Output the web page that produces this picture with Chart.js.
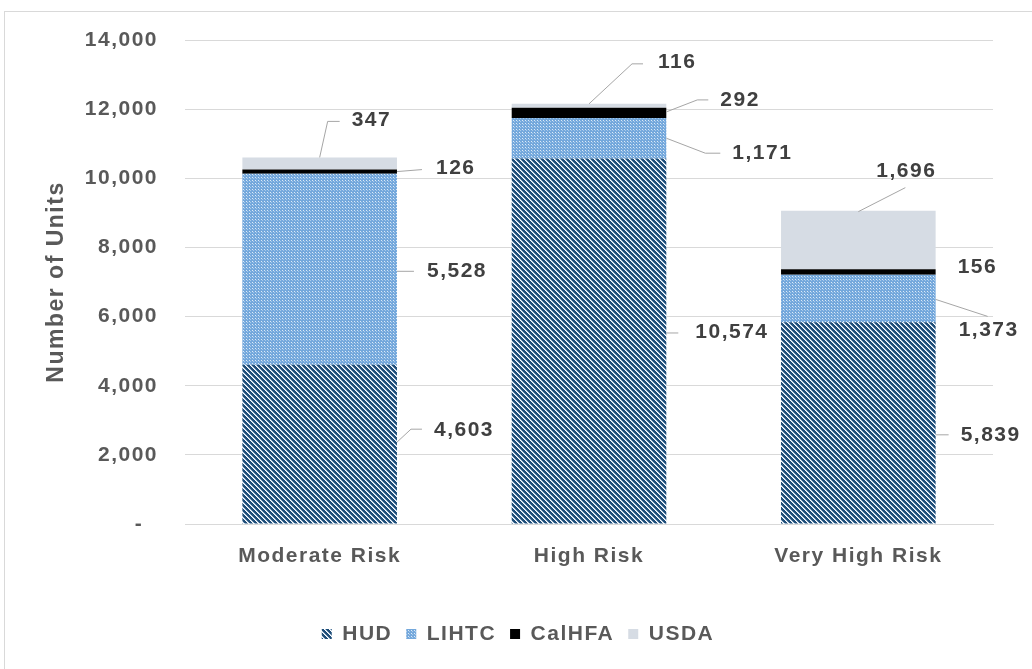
<!DOCTYPE html>
<html>
<head>
<meta charset="utf-8">
<script src="https://cdn.jsdelivr.net/npm/chart.js@4.4.1/dist/chart.umd.min.js"></script>
<style>
  html, body { margin: 0; padding: 0; background: #ffffff; }
  #wrap { width: 1032px; height: 669px; }
</style>
</head>
<body>
<div id="wrap"><canvas id="c" width="1032" height="669"></canvas></div>
<script>
// ---- data ----
const categories = ['Moderate Risk', 'High Risk', 'Very High Risk'];
const seriesNames = ['HUD', 'LIHTC', 'CalHFA', 'USDA'];
const hudUnits = [4603, 10574, 5839];
const lihtcUnits = [5528, 1171, 1373];
const calhfaUnits = [126, 292, 156];
const usdaUnits = [347, 116, 1696];
const yMin = 0, yMax = 14000, yStep = 2000;

// ---- label leader layout (offsets relative to each bar segment) ----
// a: 'r' = right edge / middle of segment, 't' = centre / top of segment
const labelLayout = [
  [ {a:'r', pts:[[0,-2],[14,-15],[25,-15]], t:[37,-14]},
    {a:'r', pts:[[0,-8],[12,-8]], t:[29,-9]},
    {a:'r', pts:[[0,12],[13,12]], t:[25,12]} ],
  [ {a:'r', pts:[[0,2],[17,2]], t:[30,2]},
    {a:'r', pts:[[0,0],[39,15],[54,15]], t:[66,15]},
    {a:'r', pts:[[0,1],[52,18]], t:[23,32]} ],
  [ {a:'r', pts:[[0,0],[25,-2]], t:[39,-3]},
    {a:'r', pts:[[0,-1],[31,-13],[42,-13]], t:[54,-13]},
    {a:'r', pts:[], t:[22,-5]} ],
  [ {a:'t', pts:[[0,0],[8,-36],[20,-36]], t:[32,-37]},
    {a:'t', pts:[[0,0],[43,-40],[54,-40]], t:[69,-42]},
    {a:'t', pts:[[0,1],[47,-23]], t:[18,-39]} ]
];

function hatchPattern() {
  const c = document.createElement('canvas');
  c.width = 5; c.height = 5;
  const g = c.getContext('2d');
  g.fillStyle = '#1F4E79'; g.fillRect(0, 0, 5, 5);
  for (let y = 0; y < 5; y++) {
    g.fillStyle = '#ffffff'; g.fillRect(y % 5, y, 1, 1);
    g.fillStyle = '#A9C0D8'; g.fillRect((y + 1) % 5, y, 1, 1);
  }
  return g.createPattern(c, 'repeat');
}
function dotPattern() {
  const c = document.createElement('canvas');
  c.width = 3; c.height = 3;
  const g = c.getContext('2d');
  g.fillStyle = '#74A8DC'; g.fillRect(0, 0, 3, 3);
  g.fillStyle = '#DCEAF7'; g.fillRect(0, 0, 1, 1);
  g.fillStyle = '#A8C9EA'; g.fillRect(1, 1, 1, 1);
  return g.createPattern(c, 'repeat');
}

const FONT = "'Liberation Sans', Arial, sans-serif";
const SPACING = '1.5px';

const spacingPlugin = {
  id: 'spacing',
  beforeUpdate(chart) { chart.ctx.letterSpacing = SPACING; },
  beforeDraw(chart) {
    const ctx = chart.ctx;
    ctx.letterSpacing = SPACING;
    ctx.save();
    ctx.fillStyle = '#ffffff';
    ctx.fillRect(0, 0, chart.width, chart.height);
    ctx.strokeStyle = '#D9D9D9';
    ctx.lineWidth = 1;
    ctx.strokeRect(4.5, 11.5, 1100, 1000);
    ctx.restore();
  }
};

const labelPlugin = {
  id: 'leaderLabels',
  afterDatasetsDraw(chart) {
    const ctx = chart.ctx;
    ctx.save();
    ctx.letterSpacing = SPACING;
    chart.data.datasets.forEach((ds, di) => {
      const meta = chart.getDatasetMeta(di);
      meta.data.forEach((bar, ci) => {
        const p = bar.getProps(['x', 'y', 'base', 'width'], true);
        const cfg = labelLayout[di][ci];
        let ax, ay;
        if (cfg.a === 'r') { ax = p.x + p.width / 2; ay = (p.y + p.base) / 2; }
        else { ax = p.x; ay = Math.min(p.y, p.base); }
        if (cfg.pts.length > 1) {
          ctx.beginPath();
          ctx.strokeStyle = '#A6A6A6';
          ctx.lineWidth = 1;
          cfg.pts.forEach((pt, k) => {
            const X = ax + pt[0], Y = ay + pt[1];
            if (k === 0) ctx.moveTo(X, Y); else ctx.lineTo(X, Y);
          });
          ctx.stroke();
        }
        ctx.fillStyle = '#404040';
        ctx.font = 'bold 21px ' + FONT;
        ctx.textAlign = 'left';
        ctx.textBaseline = 'middle';
        ctx.fillText(ds.data[ci].toLocaleString('en-US'), ax + cfg.t[0], ay + cfg.t[1]);
      });
    });
    ctx.restore();
  }
};

const colors = [hatchPattern(), dotPattern(), '#000000', '#D6DCE4'];
const values = [hudUnits, lihtcUnits, calhfaUnits, usdaUnits];

new Chart(document.getElementById('c'), {
  type: 'bar',
  data: {
    labels: categories,
    datasets: seriesNames.map((n, i) => ({
      label: n,
      data: values[i],
      backgroundColor: colors[i],
      borderWidth: 0,
      categoryPercentage: 1,
      barPercentage: 0.574
    }))
  },
  options: {
    responsive: false,
    animation: false,
    devicePixelRatio: 1,
    layout: { padding: { left: 43, right: 39, top: 40, bottom: 14.5 } },
    scales: {
      x: {
        stacked: true,
        grid: { display: false, drawTicks: false },
        border: { display: true, color: '#D9D9D9' },
        ticks: { color: '#595959', padding: 20, font: { family: FONT, size: 21, weight: 'bold' } },
        afterFit(s) { s.height = 85.5; }
      },
      y: {
        stacked: true,
        min: yMin, max: yMax,
        grid: { color: '#D9D9D9', drawTicks: false },
        border: { display: false },
        ticks: {
          stepSize: yStep,
          color: '#595959',
          padding: 27,
          font: { family: FONT, size: 21, weight: 'bold' },
          callback: v => v === 0 ? '-  ' : v.toLocaleString('en-US')
        },
        title: {
          display: true, text: 'Number of Units', color: '#595959',
          padding: { top: 0, bottom: 0 },
          font: { family: FONT, size: 23, weight: 'bold' }
        },
        afterFit(s) { s.width = 142; }
      }
    },
    plugins: {
      legend: {
        position: 'bottom',
        labels: {
          color: '#595959', boxWidth: 10, boxHeight: 10, padding: 14,
          font: { family: FONT, size: 21, weight: 'bold' }
        }
      },
      tooltip: { enabled: false }
    }
  },
  plugins: [spacingPlugin, labelPlugin]
});
</script>
</body>
</html>
